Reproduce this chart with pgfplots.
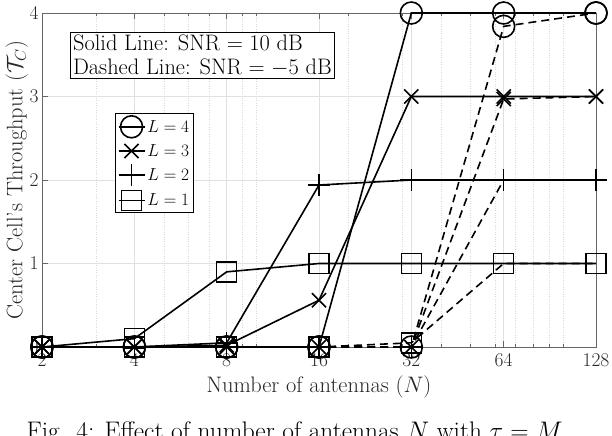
\RequirePackage{fix-cm}
\documentclass[border=0pt]{standalone}
\usepackage{pgfplots}
\pgfplotsset{compat=1.18}
\newcommand{\tickf}{\fontsize{19.5}{23}\selectfont}
\newcommand{\labf}{\fontsize{22.5}{26}\selectfont}
\begin{document}
\begin{tikzpicture}
\begin{axis}[
  scale only axis,
  width=554bp, height=334bp,
  xmode=log,
  xmin=2, xmax=128, ymin=0, ymax=4,
  xtick={2,4,8,16,32,64,128},
  xticklabels={2,4,8,16,32,64,128},
  minor xtick={3,5,6,7,9,10,20,30,40,50,60,70,80,90,100},
  ytick={0,1,2,3,4},
  grid=both,
  major grid style={draw=black!12, line width=0.6bp},
  minor grid style={draw=black!15, dotted, line width=0.6bp},
  axis line style={draw=black!60, line width=0.6bp},
  tick style={draw=black!60, line width=0.6bp},
  tick align=inside,
  major tick length=6bp, minor tick length=3bp,
  ticklabel style={font=\tickf, text=black!85},
  xticklabel style={yshift=-3bp},
  xlabel style={font=\labf, text=black!85, yshift=-2bp},
  xlabel={Number of antennas ($N$)},
  every axis y label/.style={at={(rel axis cs:-0.066,0.5)}, rotate=90,
    anchor=north, font=\labf, text=black!85, inner sep=0pt},
  ylabel={Center Cell's Throughput ($\mathcal{T}_C$)},
  clip=false,
  legend style={at={(rel axis cs:0.132,0.70)}, anchor=north west,
    draw=black, line width=1.2bp, font=\fontsize{17.5}{20}\selectfont,
    fill=white, inner sep=2bp, row sep=4.5bp,
    /tikz/every even column/.append style={column sep=0bp}},
  legend cell align=left,
  legend image code/.code={\draw[mark repeat=2,mark phase=2] plot coordinates {(0bp,0bp) (13bp,0bp) (26bp,0bp)};},
  every axis plot/.append style={black, line width=1.6bp},
]
% SNR = 10 dB (solid)
\addplot[solid, mark=o, mark size=11bp] coordinates {(2,0) (4,0) (8,0) (16,0) (32,4) (64,4) (128,4)};
\addlegendentry{$L=4$}
\addplot[solid, mark=x, mark size=10bp] coordinates {(2,0) (4,0) (8,0.02) (16,0.56) (32,3) (64,3) (128,3)};
\addlegendentry{$L=3$}
\addplot[solid, mark=+, mark size=11bp] coordinates {(2,0) (4,0) (8,0.05) (16,1.94) (32,2) (64,2) (128,2)};
\addlegendentry{$L=2$}
\addplot[solid, mark=square, mark size=10bp] coordinates {(2,0) (4,0.1) (8,0.9) (16,1) (32,1) (64,1) (128,1)};
\addlegendentry{$L=1$}
% SNR = -5 dB (dashed)
\addplot[dash pattern=on 8bp off 5bp, mark=o, mark size=11bp, mark options={solid}, forget plot] coordinates {(2,0) (4,0) (8,0) (16,0) (32,0) (64,3.84) (128,4)};
\addplot[dash pattern=on 8bp off 5bp, mark=x, mark size=10bp, mark options={solid}, forget plot] coordinates {(2,0) (4,0) (8,0) (16,0) (32,0) (64,2.97) (128,3)};
\addplot[dash pattern=on 8bp off 5bp, mark=+, mark size=11bp, mark options={solid}, forget plot] coordinates {(2,0) (4,0) (8,0) (16,0) (32,0) (64,2) (128,2)};
\addplot[dash pattern=on 8bp off 5bp, mark=square, mark size=10bp, mark options={solid}, forget plot] coordinates {(2,0) (4,0) (8,0) (16,0) (32,0.05) (64,1) (128,1)};
\node[draw=black, line width=1.2bp, fill=white, anchor=north west, align=left,
  inner sep=2.5bp, font=\fontsize{22.5}{23.5}\selectfont]
  at (rel axis cs:0.0505,0.943) {Solid Line: SNR $=10$ dB\\Dashed Line: SNR $=-5$ dB};
\end{axis}
\node[anchor=base west, font=\fontsize{25.5}{29}\selectfont] at (-19bp,-92bp)
  {Fig. 4: Effect of number of antennas $N$ with $\tau = M$};
\pgfresetboundingbox
\useasboundingbox (-42bp,-89bp) rectangle (570bp,347bp);
\end{tikzpicture}
\end{document}
